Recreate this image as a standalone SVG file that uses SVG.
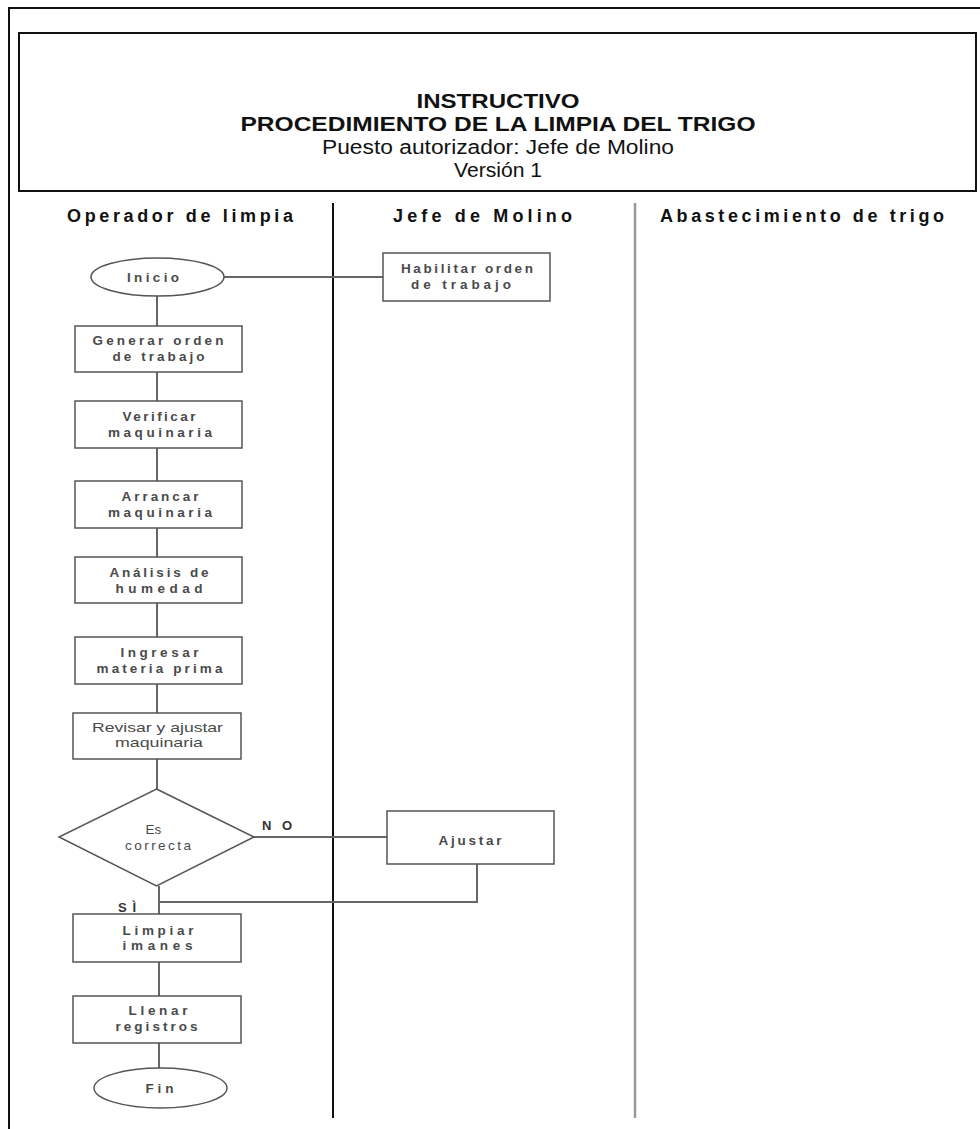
<svg xmlns="http://www.w3.org/2000/svg" width="980" height="1129" viewBox="0 0 980 1129">
<style>
.frame{fill:none;stroke:#111;stroke-width:2}
.title{font-family:"Liberation Sans",Arial,sans-serif;font-size:20px;fill:#111;text-anchor:middle}
.tb{font-weight:bold}
.lane{font-family:"Liberation Sans",Arial,sans-serif;font-size:18px;font-weight:bold;fill:#111}
.box{fill:#fff;stroke:#555;stroke-width:1.5}
.t{font-family:"Liberation Sans",Arial,sans-serif;font-size:13.5px;font-weight:bold;fill:#4a4a4a;text-anchor:middle}
.c{fill:none;stroke:#666;stroke-width:2}
.lbl{font-family:"Liberation Sans",Arial,sans-serif;font-size:13px;font-weight:bold;fill:#333}
</style>
<rect width="980" height="1129" fill="#fff"/>
<g id="frame">
<path class="frame" d="M9,1129 V8 H980"/>
<rect class="frame" x="19" y="33" width="957" height="158"/>
<text class="title tb" x="498" y="108" textLength="163" lengthAdjust="spacingAndGlyphs">INSTRUCTIVO</text>
<text class="title tb" x="498" y="131" textLength="515" lengthAdjust="spacingAndGlyphs">PROCEDIMIENTO DE LA LIMPIA DEL TRIGO</text>
<text class="title" x="498" y="154" textLength="352" lengthAdjust="spacingAndGlyphs">Puesto autorizador: Jefe de Molino</text>
<text class="title" x="498" y="177" textLength="88" lengthAdjust="spacingAndGlyphs">Versión 1</text>
</g>
<g id="lanes">
<text class="lane" x="67" y="222" textLength="226" lengthAdjust="spacing">Operador de limpia</text>
<text class="lane" x="393" y="222" textLength="179" lengthAdjust="spacing">Jefe de Molino</text>
<text class="lane" x="660" y="222" textLength="284" lengthAdjust="spacing">Abastecimiento de trigo</text>
<line x1="333" y1="203" x2="333" y2="1118" stroke="#111" stroke-width="2"/>
<line x1="635" y1="203" x2="635" y2="1118" stroke="#999" stroke-width="2.5"/>
</g>
<g id="connectors">
<line class="c" x1="157" y1="296" x2="157" y2="326"/>
<line class="c" x1="224" y1="277" x2="383" y2="277"/>
<line class="c" x1="157" y1="372" x2="157" y2="401"/>
<line class="c" x1="157" y1="448" x2="157" y2="481"/>
<line class="c" x1="157" y1="528" x2="157" y2="557"/>
<line class="c" x1="157" y1="603" x2="157" y2="637"/>
<line class="c" x1="157" y1="684" x2="157" y2="713"/>
<line class="c" x1="157" y1="759" x2="157" y2="789"/>
<line class="c" x1="254" y1="837" x2="387" y2="837"/>
<polyline class="c" points="477,864 477,902 159,902"/>
<line class="c" x1="159" y1="886" x2="159" y2="914"/>
<line class="c" x1="159" y1="962" x2="159" y2="996"/>
<line class="c" x1="159" y1="1043" x2="159" y2="1068"/>
<text class="lbl" x="262" y="830" textLength="30" lengthAdjust="spacing">NO</text>
<text class="lbl" x="118" y="912" textLength="18" lengthAdjust="spacing">SÌ</text>
</g>
<g id="inicio">
<ellipse class="box" cx="157.5" cy="277" rx="66.5" ry="19"/>
<text class="t" x="153" y="282" textLength="52" lengthAdjust="spacing">Inicio</text>
</g>
<g id="habilitar">
<rect class="box" x="383" y="253" width="167" height="48"/>
<text class="t" x="467" y="273" textLength="132" lengthAdjust="spacing">Habilitar orden</text>
<text class="t" x="461" y="289" textLength="100" lengthAdjust="spacing">de trabajo</text>
</g>
<g id="generar">
<rect class="box" x="75" y="326" width="167" height="46"/>
<text class="t" x="158" y="345" textLength="131" lengthAdjust="spacing">Generar orden</text>
<text class="t" x="158.5" y="361" textLength="92" lengthAdjust="spacing">de trabajo</text>
</g>
<g id="verificar">
<rect class="box" x="75" y="401" width="167" height="47"/>
<text class="t" x="159" y="421" textLength="73" lengthAdjust="spacing">Verificar</text>
<text class="t" x="160" y="437" textLength="104" lengthAdjust="spacing">maquinaria</text>
</g>
<g id="arrancar">
<rect class="box" x="75" y="481" width="167" height="47"/>
<text class="t" x="160" y="501" textLength="77" lengthAdjust="spacing">Arrancar</text>
<text class="t" x="160" y="517" textLength="104" lengthAdjust="spacing">maquinaria</text>
</g>
<g id="analisis">
<rect class="box" x="75" y="557" width="167" height="46"/>
<text class="t" x="159" y="577" textLength="99" lengthAdjust="spacing">Análisis de</text>
<text class="t" x="159" y="593" textLength="87" lengthAdjust="spacing">humedad</text>
</g>
<g id="ingresar">
<rect class="box" x="75" y="637" width="167" height="47"/>
<text class="t" x="159.5" y="657" textLength="78" lengthAdjust="spacing">Ingresar</text>
<text class="t" x="159.5" y="673" textLength="126" lengthAdjust="spacing">materia prima</text>
</g>
<g id="revisar">
<rect class="box" x="73" y="713" width="168" height="46"/>
<text class="t" x="157.5" y="732" textLength="131" lengthAdjust="spacingAndGlyphs" style="font-weight:normal">Revisar y ajustar</text>
<text class="t" x="159" y="747" textLength="88" lengthAdjust="spacingAndGlyphs" style="font-weight:normal">maquinaria</text>
</g>
<g id="decision">
<polygon class="box" points="156.5,789 254,837 156.5,886 59,837"/>
<text class="t" x="153.5" y="834" style="font-weight:normal">Es</text>
<text class="t" x="158" y="850" textLength="66" lengthAdjust="spacing" style="font-weight:normal">correcta</text>
</g>
<g id="ajustar">
<rect class="box" x="387" y="811" width="167" height="53"/>
<text class="t" x="470" y="845" textLength="63" lengthAdjust="spacing">Ajustar</text>
</g>
<g id="limpiar">
<rect class="box" x="73" y="914" width="168" height="48"/>
<text class="t" x="158" y="935" textLength="71" lengthAdjust="spacing">Limpiar</text>
<text class="t" x="157.5" y="950" textLength="70" lengthAdjust="spacing">imanes</text>
</g>
<g id="llenar">
<rect class="box" x="73" y="996" width="168" height="47"/>
<text class="t" x="158" y="1015" textLength="59" lengthAdjust="spacing">Llenar</text>
<text class="t" x="156.5" y="1031" textLength="82" lengthAdjust="spacing">registros</text>
</g>
<g id="fin">
<ellipse class="box" cx="160.5" cy="1088" rx="66.5" ry="20"/>
<text class="t" x="159.5" y="1093" textLength="28" lengthAdjust="spacing">Fin</text>
</g>
</svg>
